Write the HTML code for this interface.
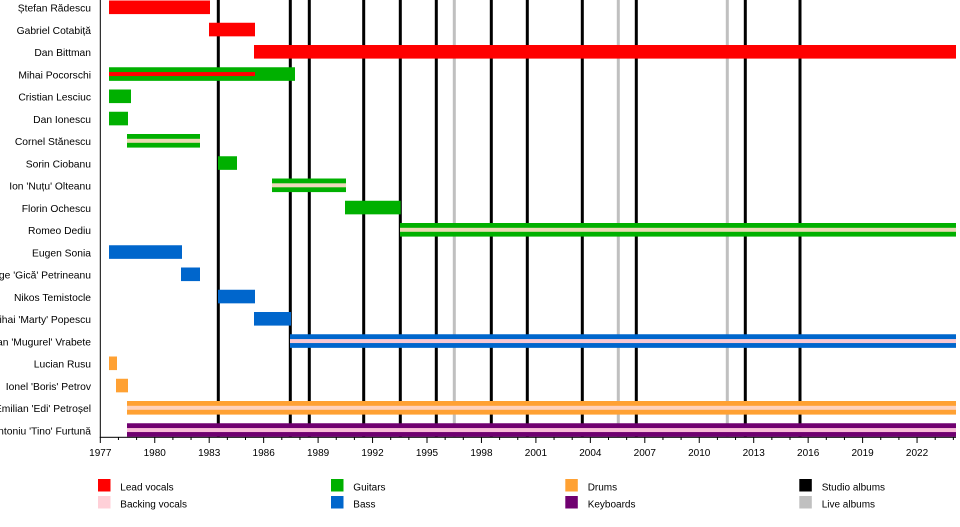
<!DOCTYPE html>
<html><head><meta charset="utf-8"><style>
html,body{margin:0;padding:0;background:#fff;}
svg{display:block;}
text{font-family:"Liberation Sans",Arial,sans-serif;fill:#000;}
.lbl{font-size:10.3px;text-anchor:end;}
.yr{font-size:10px;text-anchor:middle;}
.lg{font-size:10px;}
</style></head><body>
<svg width="960" height="527" viewBox="0 0 960 527" xmlns="http://www.w3.org/2000/svg">
<rect x="0" y="0" width="960" height="527" fill="#fff"/>
<!-- album lines -->
<g fill="#000">
<rect x="216.8" y="0" width="3" height="437"/>
<rect x="288.8" y="0" width="3" height="437"/>
<rect x="307.8" y="0" width="3" height="437"/>
<rect x="362.2" y="0" width="3" height="437"/>
<rect x="398.8" y="0" width="3" height="437"/>
<rect x="434.8" y="0" width="3" height="437"/>
<rect x="489.8" y="0" width="3" height="437"/>
<rect x="525.8" y="0" width="3" height="437"/>
<rect x="580.8" y="0" width="3" height="437"/>
<rect x="634.8" y="0" width="3" height="437"/>
<rect x="743.8" y="0" width="3" height="437"/>
<rect x="798.5" y="0" width="3" height="437"/>
</g>
<g fill="#c0c0c0">
<rect x="452.8" y="0" width="3" height="437"/>
<rect x="616.8" y="0" width="3" height="437"/>
<rect x="725.8" y="0" width="3" height="437"/>
</g>
<!-- bars: row center = 7.3 + 22.25*i, height 13.6 -->
<g>
<rect x="109" y="0.5" width="101" height="13.6" fill="#ff0000"/>
<rect x="209" y="22.75" width="46" height="13.6" fill="#ff0000"/>
<rect x="254" y="45" width="702" height="13.6" fill="#ff0000"/>
<rect x="109" y="67.25" width="186" height="13.6" fill="#00b000"/>
<rect x="109" y="72.05" width="146" height="4" fill="#ff0000"/>
<rect x="109" y="89.5" width="22" height="13.6" fill="#00b000"/>
<rect x="109" y="111.75" width="19" height="13.6" fill="#00b000"/>
<rect x="127" y="134" width="73" height="13.6" fill="#00b000"/>
<rect x="127" y="138.8" width="73" height="4" fill="#e8dab2"/>
<rect x="218" y="156.25" width="19" height="13.6" fill="#00b000"/>
<rect x="272" y="178.5" width="74" height="13.6" fill="#00b000"/>
<rect x="272" y="183.3" width="74" height="4" fill="#f0d8bc"/>
<rect x="345" y="200.75" width="55.7" height="13.6" fill="#00b000"/>
<rect x="400" y="223" width="556" height="13.6" fill="#00b000"/>
<rect x="400" y="227.8" width="556" height="4" fill="#eadab4"/>
<rect x="109" y="245.25" width="73" height="13.6" fill="#0066cc"/>
<rect x="181" y="267.5" width="19" height="13.6" fill="#0066cc"/>
<rect x="218" y="289.75" width="37" height="13.6" fill="#0066cc"/>
<rect x="254" y="312" width="37" height="13.6" fill="#0066cc"/>
<rect x="290" y="334.25" width="666" height="13.6" fill="#0066cc"/>
<rect x="290" y="339.05" width="666" height="4" fill="#f8c8d2"/>
<rect x="109" y="356.5" width="8" height="13.6" fill="#ffa133"/>
<rect x="116" y="378.75" width="12" height="13.6" fill="#ffa133"/>
<rect x="127" y="401" width="829" height="13.6" fill="#ffa133"/>
<rect x="127" y="405.8" width="829" height="4" fill="#ffd2bc"/>
<rect x="127" y="423.25" width="829" height="13.6" fill="#700070"/>
<rect x="127" y="428.05" width="829" height="4" fill="#f8bcd8"/>
</g>
<!-- axes -->
<rect x="99.8" y="0" width="1" height="437.5" fill="#000"/>
<rect x="99.8" y="436.8" width="856.2" height="1" fill="#000"/>
<g stroke="#000" stroke-width="1" id="ticks">
<line x1="100.3" y1="437" x2="100.3" y2="443"/>
<line x1="118.45" y1="437" x2="118.45" y2="440"/>
<line x1="136.6" y1="437" x2="136.6" y2="440"/>
<line x1="154.75" y1="437" x2="154.75" y2="443"/>
<line x1="172.9" y1="437" x2="172.9" y2="440"/>
<line x1="191.05" y1="437" x2="191.05" y2="440"/>
<line x1="209.2" y1="437" x2="209.2" y2="443"/>
<line x1="227.35" y1="437" x2="227.35" y2="440"/>
<line x1="245.5" y1="437" x2="245.5" y2="440"/>
<line x1="263.65" y1="437" x2="263.65" y2="443"/>
<line x1="281.8" y1="437" x2="281.8" y2="440"/>
<line x1="299.95" y1="437" x2="299.95" y2="440"/>
<line x1="318.1" y1="437" x2="318.1" y2="443"/>
<line x1="336.25" y1="437" x2="336.25" y2="440"/>
<line x1="354.4" y1="437" x2="354.4" y2="440"/>
<line x1="372.55" y1="437" x2="372.55" y2="443"/>
<line x1="390.7" y1="437" x2="390.7" y2="440"/>
<line x1="408.85" y1="437" x2="408.85" y2="440"/>
<line x1="427" y1="437" x2="427" y2="443"/>
<line x1="445.15" y1="437" x2="445.15" y2="440"/>
<line x1="463.3" y1="437" x2="463.3" y2="440"/>
<line x1="481.45" y1="437" x2="481.45" y2="443"/>
<line x1="499.6" y1="437" x2="499.6" y2="440"/>
<line x1="517.75" y1="437" x2="517.75" y2="440"/>
<line x1="535.9" y1="437" x2="535.9" y2="443"/>
<line x1="554.05" y1="437" x2="554.05" y2="440"/>
<line x1="572.2" y1="437" x2="572.2" y2="440"/>
<line x1="590.35" y1="437" x2="590.35" y2="443"/>
<line x1="608.5" y1="437" x2="608.5" y2="440"/>
<line x1="626.65" y1="437" x2="626.65" y2="440"/>
<line x1="644.8" y1="437" x2="644.8" y2="443"/>
<line x1="662.95" y1="437" x2="662.95" y2="440"/>
<line x1="681.1" y1="437" x2="681.1" y2="440"/>
<line x1="699.25" y1="437" x2="699.25" y2="443"/>
<line x1="717.4" y1="437" x2="717.4" y2="440"/>
<line x1="735.55" y1="437" x2="735.55" y2="440"/>
<line x1="753.7" y1="437" x2="753.7" y2="443"/>
<line x1="771.85" y1="437" x2="771.85" y2="440"/>
<line x1="790" y1="437" x2="790" y2="440"/>
<line x1="808.15" y1="437" x2="808.15" y2="443"/>
<line x1="826.3" y1="437" x2="826.3" y2="440"/>
<line x1="844.45" y1="437" x2="844.45" y2="440"/>
<line x1="862.6" y1="437" x2="862.6" y2="443"/>
<line x1="880.75" y1="437" x2="880.75" y2="440"/>
<line x1="898.9" y1="437" x2="898.9" y2="440"/>
<line x1="917.05" y1="437" x2="917.05" y2="443"/>
<line x1="935.2" y1="437" x2="935.2" y2="440"/>
<line x1="953.35" y1="437" x2="953.35" y2="440"/>
</g>
<g class="yr">
<text class="yr" x="100.3" y="456">1977</text>
<text class="yr" x="154.75" y="456">1980</text>
<text class="yr" x="209.2" y="456">1983</text>
<text class="yr" x="263.65" y="456">1986</text>
<text class="yr" x="318.1" y="456">1989</text>
<text class="yr" x="372.55" y="456">1992</text>
<text class="yr" x="427" y="456">1995</text>
<text class="yr" x="481.45" y="456">1998</text>
<text class="yr" x="535.9" y="456">2001</text>
<text class="yr" x="590.35" y="456">2004</text>
<text class="yr" x="644.8" y="456">2007</text>
<text class="yr" x="699.25" y="456">2010</text>
<text class="yr" x="753.7" y="456">2013</text>
<text class="yr" x="808.15" y="456">2016</text>
<text class="yr" x="862.6" y="456">2019</text>
<text class="yr" x="917.05" y="456">2022</text>
</g>
<!-- row labels -->
<g>
<text class="lbl" x="91" y="11.5">Ștefan Rădescu</text>
<text class="lbl" x="91" y="33.75">Gabriel Cotabiță</text>
<text class="lbl" x="91" y="56">Dan Bittman</text>
<text class="lbl" x="91" y="78.25">Mihai Pocorschi</text>
<text class="lbl" x="91" y="100.5">Cristian Lesciuc</text>
<text class="lbl" x="91" y="122.75">Dan Ionescu</text>
<text class="lbl" x="91" y="145">Cornel Stănescu</text>
<text class="lbl" x="91" y="167.25">Sorin Ciobanu</text>
<text class="lbl" x="91" y="189.5">Ion 'Nuțu' Olteanu</text>
<text class="lbl" x="91" y="211.75">Florin Ochescu</text>
<text class="lbl" x="91" y="234">Romeo Dediu</text>
<text class="lbl" x="91" y="256.25">Eugen Sonia</text>
<text class="lbl" x="91" y="278.5">George 'Gică' Petrineanu</text>
<text class="lbl" x="91" y="300.75">Nikos Temistocle</text>
<text class="lbl" x="91" y="323">Mihai 'Marty' Popescu</text>
<text class="lbl" x="91" y="345.25">Iulian 'Mugurel' Vrabete</text>
<text class="lbl" x="91" y="367.5">Lucian Rusu</text>
<text class="lbl" x="91" y="389.75">Ionel 'Boris' Petrov</text>
<text class="lbl" x="91" y="412">Emilian 'Edi' Petroșel</text>
<text class="lbl" x="91" y="434.25">Antoniu 'Tino' Furtună</text>
</g>
<!-- legend -->
<rect x="98" y="479" width="12.5" height="12.5" fill="#ff0000"/>
<rect x="98" y="496" width="12.5" height="12.5" fill="#ffd0d8"/>
<text class="lg" x="120.3" y="490.7">Lead vocals</text>
<text class="lg" x="120.3" y="507.7">Backing vocals</text>
<rect x="331" y="479" width="12.5" height="12.5" fill="#00b000"/>
<rect x="331" y="496" width="12.5" height="12.5" fill="#0066cc"/>
<text class="lg" x="353.3" y="490.7">Guitars</text>
<text class="lg" x="353.3" y="507.7">Bass</text>
<rect x="565.3" y="479" width="12.5" height="12.5" fill="#ffa133"/>
<rect x="565.3" y="496" width="12.5" height="12.5" fill="#700070"/>
<text class="lg" x="587.7" y="490.7">Drums</text>
<text class="lg" x="587.7" y="507.7">Keyboards</text>
<rect x="799.3" y="479" width="12.5" height="12.5" fill="#000000"/>
<rect x="799.3" y="496" width="12.5" height="12.5" fill="#c0c0c0"/>
<text class="lg" x="821.7" y="490.7">Studio albums</text>
<text class="lg" x="821.7" y="507.7">Live albums</text>
</svg>
</body></html>
